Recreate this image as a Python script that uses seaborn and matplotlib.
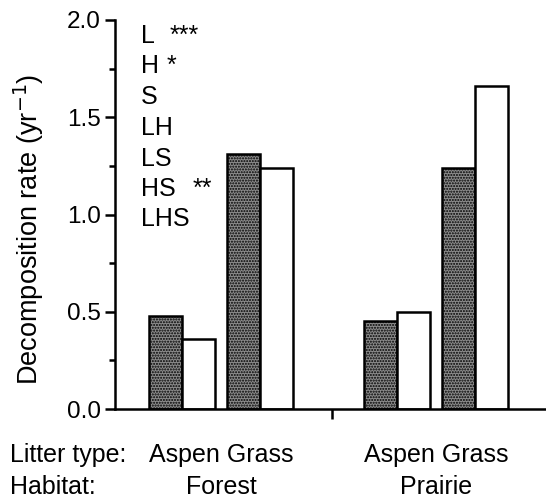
import numpy as np
import pandas as pd
import matplotlib
matplotlib.use("Agg")
import matplotlib.pyplot as plt
import matplotlib.transforms as mtransforms
import seaborn as sns

# ---- data ----
habitats = ["Forest", "Prairie"]
litter_types = ["Aspen", "Grass"]
series = ["shaded", "open"]
# values per (habitat, litter) for each series
shaded_vals = [0.48, 1.31, 0.45, 1.24]
open_vals = [0.36, 1.24, 0.50, 1.66]
effects = ["L", "H", "S", "LH", "LS", "HS", "LHS"]
signif = ["***", "*", "", "", "", "**", ""]
y_ticks = [0.0, 0.5, 1.0, 1.5, 2.0]

# ---- layout ----
habitat_step = 2.76
pos = []
for hi in range(len(habitats)):
    for li in range(len(litter_types)):
        pos.append(hi * habitat_step + li)

rows = []
for p, a, b in zip(pos, shaded_vals, open_vals):
    rows.append({"pos": p, "value": a, "series": series[0]})
    rows.append({"pos": p, "value": b, "series": series[1]})
df = pd.DataFrame(rows)

sns.set_style("ticks")
plt.rcParams["font.family"] = ["Liberation Sans", "DejaVu Sans"]
plt.rcParams["hatch.linewidth"] = 1.0
for k in ["text.color", "axes.labelcolor", "xtick.color", "ytick.color", "axes.edgecolor"]:
    plt.rcParams[k] = "black"

FS = 18

fig = plt.figure(figsize=(5.46, 5.04), dpi=100)
ax = fig.add_axes([115 / 546, 1 - 409 / 504, 1 - 115 / 546, (409 - 20) / 504])

sns.barplot(data=df, x="pos", y="value", hue="series", hue_order=series,
            native_scale=True, width=0.84, gap=0, errorbar=None,
            palette={series[0]: "#8c8c8c", series[1]: "white"},
            edgecolor="black", linewidth=1.8, legend=False, ax=ax)
for patch in ax.containers[0]:
    patch.set_hatch("......")

ax.set_ylim(0, 2.0)
ax.set_xlim(-0.86, 4.67)
ax.set_yticks(y_ticks)
ax.set_yticklabels([f"{v:.1f}" for v in y_ticks])
ax.set_yticks(np.arange(0.25, 2.0, 0.5), minor=True)

ax.set_xticks([])
ax.set_xticks([(1 + habitat_step) / 2 + 0.04], minor=True)
ax.tick_params(axis="x", which="minor", length=7, width=1.8, direction="out")
ax.tick_params(axis="y", which="major", length=7, width=1.8, labelsize=17.5, pad=3)
ax.tick_params(axis="y", which="minor", length=4, width=1.8)

ax.set_xlabel("")
ax.set_ylabel("Decomposition rate (yr$^{-1}$)", fontsize=19.5)
ax.yaxis.set_label_coords(-0.160, 0.463)

sns.despine(ax=ax)
for s in ["left", "bottom"]:
    ax.spines[s].set_linewidth(1.8)

# litter type and habitat labels under each habitat group
trans = mtransforms.blended_transform_factory(ax.transData, ax.transAxes)
for hi, h in enumerate(habitats):
    cx = hi * habitat_step + 0.5
    ax.text(cx, (409 - 462) / 389, " ".join(litter_types), transform=trans,
            ha="center", va="baseline", fontsize=FS)
    ax.text(cx, (409 - 494) / 389, h, transform=trans,
            ha="center", va="baseline", fontsize=FS)

fig.text(10 / 546, 1 - 462 / 504, "Litter type:", ha="left", va="baseline", fontsize=FS)
fig.text(10 / 546, 1 - 494 / 504, "Habitat:", ha="left", va="baseline", fontsize=FS)

# effect list
baselines = [43, 73, 104, 135, 166, 196, 226]
star_px = {0: 170, 1: 167, 5: 193}
for i, (e, s) in enumerate(zip(effects, signif)):
    yf = (409 - baselines[i]) / 389
    ax.text((141 - 115) / 431, yf, e, transform=ax.transAxes, ha="left",
            va="baseline", fontsize=FS)
    if s:
        ax.text((star_px[i] - 115) / 431, yf, s, transform=ax.transAxes, ha="left",
                va="baseline", fontsize=FS)

fig.savefig("out.png", dpi=100)
